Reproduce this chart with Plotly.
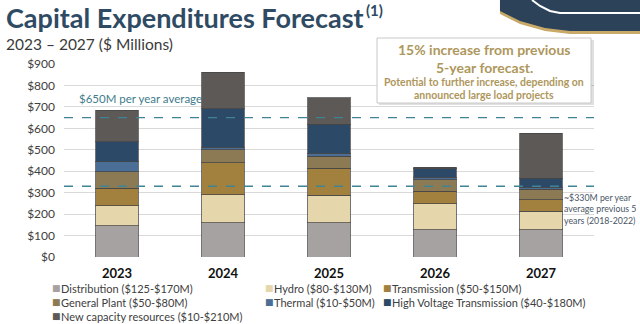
import plotly.graph_objects as go

# ---------------- data ----------------
years = ["2023", "2024", "2025", "2026", "2027"]
series_names = [
    "Distribution ($125-$170M)",
    "Hydro ($80-$130M)",
    "Transmission ($50-$150M)",
    "General Plant ($50-$80M)",
    "Thermal ($10-$50M)",
    "High Voltage Transmission ($40-$180M)",
    "New capacity resources ($10-$210M)",
]
distribution = [145, 160, 160, 128, 126]
hydro = [93, 130, 129, 120, 88]
transmission = [82, 150, 124, 58, 52]
general_plant = [78, 60, 58, 55, 50]
thermal = [46, 11, 12, 10, 10]
hv_transmission = [94, 180, 137, 40, 41]
new_capacity = [147, 170, 123, 8, 210]
series_values = [distribution, hydro, transmission, general_plant,
                 thermal, hv_transmission, new_capacity]

avg_forecast = 650   # $650M per year average
avg_previous = 330   # ~$330M previous 5 years
y_ticks = [0, 100, 200, 300, 400, 500, 600, 700, 800, 900]
y_tick_labels = ["$" + str(v) for v in y_ticks]

# ---------------- style ----------------
colors = ["#A6A2A1", "#E5D6AC", "#A2813F", "#8C7A55", "#4A6E96", "#2C4A68", "#5D5957"]
FONT = "Lato"
L, R, T, B = 64, 594, 64, 257          # plot area in px
W, H = R - L, B - T


def px(x):
    return (x - L) / W


def py(y):
    return (B - y) / H


fig = go.Figure()
for name, vals, col in zip(series_names, series_values, colors):
    fig.add_trace(go.Bar(
        x=years, y=vals, name=name, showlegend=False,
        marker=dict(color=col, line=dict(color="rgba(70,70,70,0.75)", width=1)),
    ))

shapes = []
# reference lines
for v in (avg_forecast, avg_previous):
    shapes.append(dict(type="line", xref="paper", yref="y", x0=0, x1=1, y0=v, y1=v,
                       line=dict(color="#3F8494", width=1.3, dash="dash"), layer="above"))

# annotation box (shadow + box)
shapes.append(dict(type="rect", xref="paper", yref="paper",
                   x0=px(379), x1=px(594), y0=py(105), y1=py(40),
                   fillcolor="rgba(0,0,0,0.12)", line=dict(width=0), layer="above"))
shapes.append(dict(type="rect", xref="paper", yref="paper",
                   x0=px(377), x1=px(591), y0=py(103), y1=py(38),
                   fillcolor="white", line=dict(color="#C8C8C8", width=1), layer="above"))

# top-right decoration
def path(points, close=True):
    s = "M " + " L ".join(f"{px(x):.4f},{py(y):.4f}" for x, y in points)
    return s + (" Z" if close else "")

gold_pts = [(500, 0), (500, 14), (520, 24), (545, 31), (570, 34), (640, 34), (640, 0)]
navy_pts = [(500, 0), (500, 11), (520, 21), (545, 28), (570, 31), (640, 31), (640, 0)]
white_pts = [(532, 0), (540, 6), (550, 11), (560, 13), (640, 13)]
shapes.append(dict(type="path", xref="paper", yref="paper", path=path(gold_pts),
                   fillcolor="#C9A968", line=dict(width=0), layer="above"))
shapes.append(dict(type="path", xref="paper", yref="paper", path=path(navy_pts),
                   fillcolor="#2B4259", line=dict(width=0), layer="above"))
shapes.append(dict(type="path", xref="paper", yref="paper", path=path(white_pts, close=False),
                   line=dict(color="white", width=2), layer="above"))

ann = []
# title & subtitle
ann.append(dict(text="<b>Capital Expenditures Forecast</b>", x=px(4), y=py(17),
                xref="paper", yref="paper", xanchor="left", yanchor="middle", showarrow=False,
                font=dict(family=FONT, size=27, color="#2F4B64")))
ann.append(dict(text="<b>(1)</b>", x=px(364), y=py(10),
                xref="paper", yref="paper", xanchor="left", yanchor="middle", showarrow=False,
                font=dict(family=FONT, size=15, color="#2F4B64")))
ann.append(dict(text="2023 – 2027 ($ Millions)", x=px(4), y=py(44),
                xref="paper", yref="paper", xanchor="left", yanchor="middle", showarrow=False,
                font=dict(family=FONT, size=15.5, color="#3A3A3A")))
# box text
gold = "#AE975C"
for txt, yy, sz in [("<b>15% increase from previous</b>", 50, 14),
                    ("<b>5-year forecast.</b>", 67, 14),
                    ("<b>Potential to further increase, depending on</b>", 82, 10.5),
                    ("<b>announced large load projects</b>", 95, 10.5)]:
    ann.append(dict(text=txt, x=px(484), y=py(yy), xref="paper", yref="paper",
                    xanchor="center", yanchor="middle", showarrow=False,
                    font=dict(family=FONT, size=sz, color=gold)))
# reference line labels
ann.append(dict(text="$650M per year average", x=px(77), y=py(98), xref="paper", yref="paper",
                xanchor="left", yanchor="middle", showarrow=False,
                font=dict(family=FONT, size=11.5, color="#3F7C8C")))
ann.append(dict(text="~$330M per year<br>average previous 5<br>years (2018-2022)",
                x=px(562), y=py(209), xref="paper", yref="paper", align="left",
                xanchor="left", yanchor="middle", showarrow=False,
                font=dict(family=FONT, size=8.8, color="#4A5666")))

# custom legend (3 columns)
col_x = [50, 263, 381]
row_y = [288, 302, 316]
for i, (name, col) in enumerate(zip(series_names, colors)):
    cx, ry = col_x[i % 3], row_y[i // 3]
    ann.append(dict(text="■", x=px(cx), y=py(ry), xref="paper", yref="paper",
                    xanchor="left", yanchor="middle", showarrow=False,
                    font=dict(family="DejaVu Sans", size=9, color=col)))
    ann.append(dict(text=name, x=px(cx + 9), y=py(ry), xref="paper", yref="paper",
                    xanchor="left", yanchor="middle", showarrow=False,
                    font=dict(family=FONT, size=11, color="#404040")))

fig.update_layout(
    width=640, height=324,
    margin=dict(l=L, r=640 - R, t=T, b=324 - B, pad=0),
    paper_bgcolor="white", plot_bgcolor="white",
    barmode="stack", bargap=0.6,
    shapes=shapes, annotations=ann,
    font=dict(family=FONT, color="#404040"),
    xaxis=dict(tickfont=dict(family=FONT, size=13, color="#111111", weight="bold"),
               showgrid=False, showline=False, ticks="", ticklabelstandoff=7),
    yaxis=dict(range=[0, 900], tickvals=y_ticks, ticktext=y_tick_labels,
               tickfont=dict(family=FONT, size=12, color="#404040"),
               showgrid=True, gridcolor="#D9D9D9", gridwidth=1, zeroline=False,
               showline=False, ticks="", ticklabelstandoff=8),
)

fig.write_html("out.html")
